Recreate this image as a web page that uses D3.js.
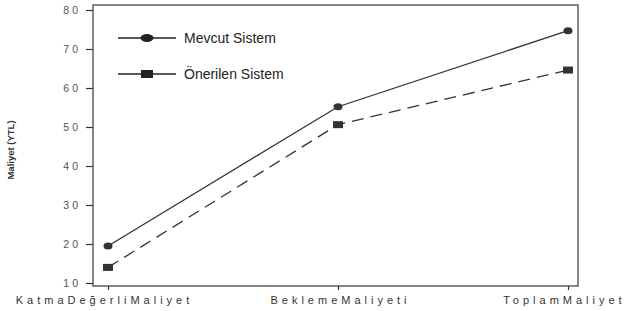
<!DOCTYPE html>
<html lang="tr">
<head>
<meta charset="utf-8">
<title>Maliyet</title>
<script src="https://d3js.org/d3.v7.min.js"></script>
<style>
  body { margin: 0; background: #fff; }
  svg { font-family: "Liberation Sans", Arial, sans-serif; }
</style>
</head>
<body>
<script>
// data
var categories = ["KatmaDeğerliMaliyet", "BeklemeMaliyeti", "ToplamMaliyet"];
var mevcut = [19.5, 55.2, 74.7];
var onerilen = [14.0, 50.6, 64.6];
var yTicks = [10, 20, 30, 40, 50, 60, 70, 80];
var seriesNames = ["Mevcut Sistem", "Önerilen Sistem"];

var W = 626, H = 311;
var box = {left: 93, right: 578, top: 5, bottom: 286};

var svg = d3.select("body").append("svg")
  .attr("width", W).attr("height", H);

var x = d3.scalePoint().domain(categories).range([108, 568]);
var y = d3.scaleLinear().domain([10, 80]).range([283, 10]);

// frame
svg.append("rect")
  .attr("x", box.left).attr("y", box.top)
  .attr("width", box.right - box.left).attr("height", box.bottom - box.top)
  .attr("fill", "none").attr("stroke", "#444").attr("stroke-width", 1.3);

// y axis
var gy = svg.append("g")
  .attr("transform", "translate(" + box.left + ",0)")
  .call(d3.axisLeft(y).tickValues(yTicks).tickSize(7).tickPadding(8));
gy.select(".domain").remove();
gy.selectAll("line").attr("stroke", "#333").attr("stroke-width", 1.2);
gy.selectAll("text")
  .attr("fill", "#555").style("font-size", "10.5px").style("letter-spacing", "3px")
  .attr("dx", "3px");

// x axis
var gx = svg.append("g")
  .attr("transform", "translate(0," + box.bottom + ")")
  .call(d3.axisBottom(x).tickSize(4).tickPadding(6));
gx.select(".domain").remove();
gx.selectAll("line").attr("stroke", "#333").attr("stroke-width", 1.2);
gx.selectAll("text")
  .attr("fill", "#333").style("font-size", "11px").style("letter-spacing", "4px")
  .attr("dx", function(d, i) { return [-4, 2, -4][i]; });

// y label
svg.append("text")
  .attr("transform", "translate(14,150) rotate(-90)")
  .attr("text-anchor", "middle")
  .style("font-size", "9.5px").style("font-weight", "bold").attr("fill", "#333")
  .text("Maliyet (YTL)");

var line = d3.line()
  .x(function(d, i) { return x(categories[i]); })
  .y(function(d) { return y(d); });

svg.append("path").datum(mevcut)
  .attr("d", line).attr("fill", "none")
  .attr("stroke", "#333").attr("stroke-width", 1.3);

svg.append("path").datum(onerilen)
  .attr("d", line).attr("fill", "none")
  .attr("stroke", "#333").attr("stroke-width", 1.3)
  .attr("stroke-dasharray", "12,7");

svg.selectAll(".dot").data(mevcut).enter().append("ellipse")
  .attr("cx", function(d, i) { return x(categories[i]); })
  .attr("cy", function(d) { return y(d); })
  .attr("rx", 4.5).attr("ry", 3.5).attr("fill", "#333");

svg.selectAll(".sq").data(onerilen).enter().append("rect")
  .attr("x", function(d, i) { return x(categories[i]) - 5; })
  .attr("y", function(d) { return y(d) - 3.5; })
  .attr("width", 10).attr("height", 7).attr("fill", "#333");

// legend
var leg = svg.append("g");
var legY = [38, 74];
seriesNames.forEach(function(name, i) {
  var g = leg.append("g").attr("transform", "translate(0," + legY[i] + ")");
  g.append("line").attr("x1", 118).attr("x2", 176).attr("y1", 0).attr("y2", 0)
    .attr("stroke", "#222").attr("stroke-width", 1.3);
  if (i === 0) {
    g.append("ellipse").attr("cx", 147).attr("cy", 0).attr("rx", 6.5).attr("ry", 4).attr("fill", "#222");
  } else {
    g.append("rect").attr("x", 141).attr("y", -4).attr("width", 12).attr("height", 8).attr("fill", "#222");
  }
  g.append("text").attr("x", 184).attr("y", 5)
    .style("font-size", "14px").attr("fill", "#222").text(name);
});
</script>
</body>
</html>
